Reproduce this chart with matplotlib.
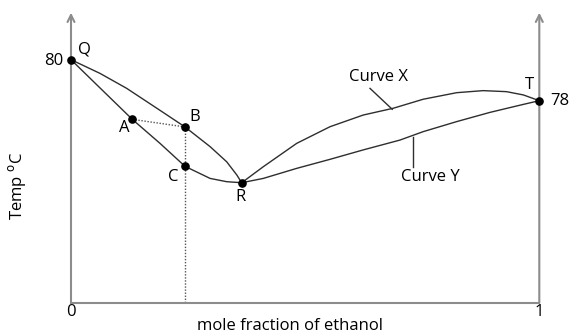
import matplotlib
matplotlib.use("Agg")
import matplotlib.pyplot as plt

plt.rcParams['font.family'] = ['Open Sans', 'DejaVu Sans']

# Boiling point / composition diagram (mole fraction of ethanol vs temperature)
# Left branch, vapour curve Q -> B -> R
vap_left_x = [0.0, 0.062, 0.119, 0.190, 0.2434, 0.297, 0.3325, 0.354, 0.3645]
vap_left_t = [80.0, 79.33, 78.60, 77.53, 76.72, 75.76, 75.02, 74.38, 74.0]
# Left branch, liquid curve Q -> A -> C -> R
liq_left_x = [0.0, 0.062, 0.1309, 0.190, 0.2434, 0.297, 0.3325, 0.3645]
liq_left_t = [80.0, 78.62, 77.09, 75.92, 74.80, 74.21, 74.05, 74.0]
# Right branch, Curve X (vapour) R -> T
curve_x_x = [0.3645, 0.4106, 0.482, 0.553, 0.624, 0.688, 0.752, 0.8236, 0.880, 0.930, 0.966, 1.0]
curve_x_t = [74.0, 74.78, 75.92, 76.73, 77.30, 77.63, 78.07, 78.39, 78.49, 78.44, 78.28, 78.0]
# Right branch, Curve Y (liquid) R -> T
curve_y_x = [0.3645, 0.4106, 0.482, 0.553, 0.624, 0.7025, 0.752, 0.8236, 0.8947, 0.966, 1.0]
curve_y_t = [74.0, 74.21, 74.70, 75.14, 75.60, 76.08, 76.49, 76.98, 77.43, 77.82, 78.0]

# Labelled points
point_names = ["Q", "A", "B", "C", "R", "T"]
point_x = [0.0, 0.1309, 0.2434, 0.2434, 0.3645, 1.0]
point_t = [80.0, 77.09, 76.72, 74.80, 74.0, 78.0]

x_ticks = [0, 1]
x_tick_labels = ["0", "1"]
t_min, t_max = 68.15, 82.29

fig = plt.figure(figsize=(5.74, 3.33), dpi=100)
ax = fig.add_axes([71 / 574, 30.3 / 333, 468.3 / 574, 290 / 333])
ax.set_xlim(0, 1)
ax.set_ylim(t_min, t_max)

axis_col = "#8c8c8c"
line_col = "#2e2e2e"

for s in ["top", "left", "right"]:
    ax.spines[s].set_visible(False)
ax.spines["bottom"].set_color(axis_col)
ax.spines["bottom"].set_linewidth(1.5)

# vertical axes with open arrowheads
for xv in (0, 1):
    ax.annotate("", xy=(xv, 1.0), xytext=(xv, 0.0),
                xycoords=("data", "axes fraction"),
                arrowprops=dict(arrowstyle="->,head_length=0.5,head_width=0.25",
                                color=axis_col, lw=1.5, shrinkA=0, shrinkB=0),
                annotation_clip=False)

ax.set_xticks(x_ticks)
ax.set_xticklabels(x_tick_labels, fontsize=12)
ax.tick_params(axis="x", length=0, pad=1)
ax.set_yticks([])

kw = dict(color=line_col, lw=1.0, solid_capstyle="round", solid_joinstyle="round")
ax.plot(vap_left_x, vap_left_t, **kw)
ax.plot(liq_left_x, liq_left_t, **kw)
ax.plot(curve_x_x, curve_x_t, **kw)
ax.plot(curve_y_x, curve_y_t, **kw)

# tie line A-B and composition line down from B
a_i, b_i = point_names.index("A"), point_names.index("B")
dot = dict(color="#555555", lw=1.0, linestyle=(0, (1, 1.2)))
ax.plot([point_x[a_i], point_x[b_i]], [point_t[a_i], point_t[b_i]], **dot)
ax.plot([point_x[b_i], point_x[b_i]], [point_t[b_i], t_min], **dot)

ax.plot(point_x, point_t, "o", color="black", ms=5.2, clip_on=False, zorder=5)

# point labels
label_pos = {"Q": (0.0284, 80.51), "A": (0.113, 76.67), "B": (0.265, 77.2),
             "C": (0.218, 74.29), "R": (0.363, 73.30), "T": (0.980, 78.77)}
for name in point_names:
    lx, lt = label_pos[name]
    ax.text(lx, lt, name, fontsize=12, ha="center", va="center")

ax.text(-0.036, 79.95, "80", fontsize=12, ha="center", va="center")
ax.text(1.044, 78.0, "78", fontsize=12, ha="center", va="center", clip_on=False)

# curve callouts
ax.text(0.6556, 79.17, "Curve X", fontsize=12, ha="center", va="center")
ax.plot([0.6385, 0.686], [78.60, 77.58], color=line_col, lw=1.0)
ax.text(0.767, 74.28, "Curve Y", fontsize=12, ha="center", va="center")
ax.plot([0.7297, 0.7297], [76.24, 74.78], color=line_col, lw=1.0)

ax.set_xlabel("mole fraction of ethanol", fontsize=12)
ax.xaxis.set_label_coords(0.468, -0.082)
ax.xaxis.label.set_va("center")
ax.set_ylabel("Temp $^{\\mathrm{o}}$C", fontsize=12)
ax.yaxis.set_label_coords(-0.116, 0.402)
ax.yaxis.label.set_va("center")

fig.savefig("out.png", dpi=100)
